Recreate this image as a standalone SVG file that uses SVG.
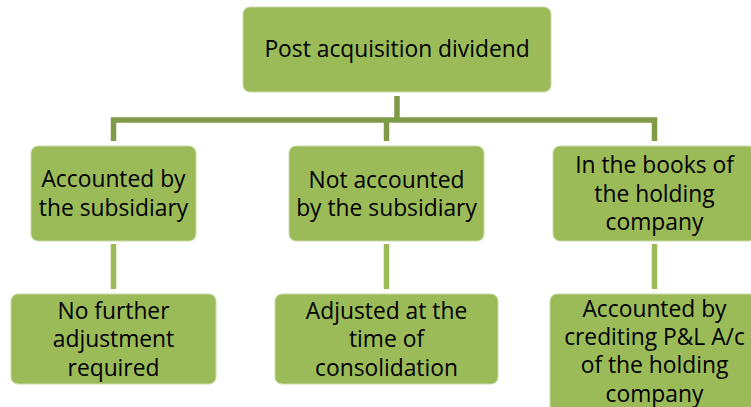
<svg xmlns="http://www.w3.org/2000/svg" width="751" height="407" viewBox="0 0 751 407">
<style>
.box{fill:#9bbb59;stroke:#c9dba6;stroke-width:1}
.t{font-family:"Open Sans","Noto Sans",sans-serif;font-size:22.8px;fill:#000;text-anchor:middle}
.c1{stroke:#7f9b48;stroke-width:5.5;fill:none}
.c2{stroke:#9bbb59;stroke-width:5.5;fill:none}
</style>
<rect width="751" height="407" fill="#fff"/>
<g id="connectors">
<path class="c1" d="M397 96V120M113.5 141V120H654.5V141M386.5 120V141"/>
<path class="c2" d="M113.5 244V289M386.5 244V289M654.5 244V289"/>
</g>
<g id="n0"><rect class="box" x="243" y="7" width="308" height="85" rx="7"/><text class="t" x="397" y="57">Post acquisition dividend</text></g>
<g id="n1"><rect class="box" x="31" y="146" width="165" height="95" rx="7"/><text class="t" x="113.5" y="187">Accounted by</text><text class="t" x="113.5" y="216">the subsidiary</text></g>
<g id="n2"><rect class="box" x="289" y="146" width="195" height="95" rx="7"/><text class="t" x="386.5" y="188">Not accounted</text><text class="t" x="386.5" y="216">by the subsidiary</text></g>
<g id="n3"><rect class="box" x="553" y="146" width="203" height="95" rx="7"/><text class="t" x="654.5" y="173">In the books of</text><text class="t" x="654.5" y="202">the holding</text><text class="t" x="654.5" y="230">company</text></g>
<g id="n4"><rect class="box" x="11" y="294" width="205" height="90" rx="7"/><text class="t" x="113.5" y="319">No further</text><text class="t" x="113.5" y="347">adjustment</text><text class="t" x="113.5" y="376">required</text></g>
<g id="n5"><rect class="box" x="275" y="294" width="223" height="90" rx="7"/><text class="t" x="386.5" y="319">Adjusted at the</text><text class="t" x="386.5" y="347">time of</text><text class="t" x="386.5" y="376">consolidation</text></g>
<g id="n6"><rect class="box" x="550" y="294" width="209" height="125" rx="7"/><text class="t" x="654.5" y="317">Accounted by</text><text class="t" x="654.5" y="345">crediting P&amp;L A/c</text><text class="t" x="654.5" y="373">of the holding</text><text class="t" x="654.5" y="402">company</text></g>
</svg>
